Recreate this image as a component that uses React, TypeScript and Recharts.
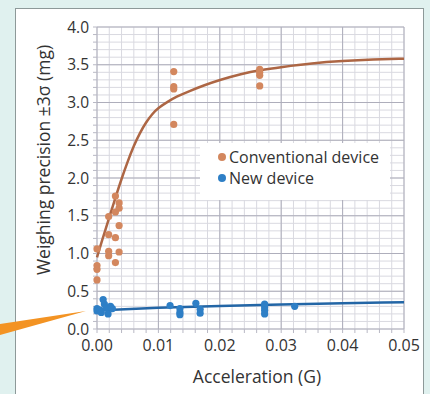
import React from 'react';
import {
  CartesianGrid,
  ComposedChart,
  Legend,
  Line,
  ReferenceLine,
  Scatter,
  XAxis,
  YAxis,
} from 'recharts';

// measured points, conventional device
const conventionalPoints = [
  { x: 0, y: 1.06 }, { x: 0, y: 0.84 }, { x: 0, y: 0.79 }, { x: 0, y: 0.65 },
  { x: 0.0019, y: 1.49 }, { x: 0.0019, y: 1.25 }, { x: 0.0019, y: 1.03 }, { x: 0.0019, y: 0.97 },
  { x: 0.003, y: 1.76 }, { x: 0.003, y: 1.55 }, { x: 0.003, y: 1.21 }, { x: 0.003, y: 0.88 },
  { x: 0.0036, y: 1.67 }, { x: 0.0036, y: 1.6 }, { x: 0.0036, y: 1.37 }, { x: 0.0036, y: 1.02 },
  { x: 0.0125, y: 3.41 }, { x: 0.0125, y: 3.21 }, { x: 0.0125, y: 3.18 }, { x: 0.0125, y: 2.71 },
  { x: 0.0265, y: 3.44 }, { x: 0.0265, y: 3.4 }, { x: 0.0265, y: 3.36 }, { x: 0.0265, y: 3.22 },
];

// measured points, new device
const newPoints = [
  { x: 0, y: 0.27 }, { x: 0, y: 0.24 }, { x: 0.0005, y: 0.25 }, { x: 0.0007, y: 0.22 },
  { x: 0.001, y: 0.39 }, { x: 0.0012, y: 0.33 }, { x: 0.0015, y: 0.28 }, { x: 0.0018, y: 0.2 },
  { x: 0.0022, y: 0.3 }, { x: 0.0025, y: 0.27 },
  { x: 0.0119, y: 0.31 }, { x: 0.0135, y: 0.27 }, { x: 0.0135, y: 0.22 }, { x: 0.0135, y: 0.19 },
  { x: 0.0161, y: 0.34 }, { x: 0.0168, y: 0.26 }, { x: 0.0168, y: 0.21 },
  { x: 0.0273, y: 0.33 }, { x: 0.0273, y: 0.29 }, { x: 0.0273, y: 0.25 }, { x: 0.0273, y: 0.2 },
  { x: 0.0322, y: 0.3 },
];

// trend curves
const conventionalTrend = [
  { x: 0, y: 0.95 }, { x: 0.001, y: 1.22 }, { x: 0.002, y: 1.48 }, { x: 0.003, y: 1.74 },
  { x: 0.004, y: 1.99 }, { x: 0.005, y: 2.22 }, { x: 0.006, y: 2.43 }, { x: 0.007, y: 2.6 },
  { x: 0.008, y: 2.74 }, { x: 0.009, y: 2.85 }, { x: 0.01, y: 2.93 }, { x: 0.0115, y: 3.01 },
  { x: 0.013, y: 3.08 }, { x: 0.015, y: 3.15 }, { x: 0.0175, y: 3.23 }, { x: 0.02, y: 3.3 },
  { x: 0.0235, y: 3.38 }, { x: 0.0265, y: 3.43 }, { x: 0.03, y: 3.47 }, { x: 0.035, y: 3.52 },
  { x: 0.04, y: 3.55 }, { x: 0.045, y: 3.57 }, { x: 0.05, y: 3.58 },
];

const newTrend = [
  { x: 0, y: 0.245 }, { x: 0.01, y: 0.28 }, { x: 0.02, y: 0.305 },
  { x: 0.03, y: 0.323 }, { x: 0.04, y: 0.34 }, { x: 0.05, y: 0.354 },
];

const xTicks = [
  0, 0.002, 0.004, 0.006, 0.008, 0.01, 0.012, 0.014, 0.016, 0.018, 0.02, 0.022, 0.024,
  0.026, 0.028, 0.03, 0.032, 0.034, 0.036, 0.038, 0.04, 0.042, 0.044, 0.046, 0.048, 0.05,
];
const xMajor = [0, 0.01, 0.02, 0.03, 0.04, 0.05];
const yTicks = Array.from({ length: 41 }, (_, i) => i / 10);
const yMajor = [0, 0.5, 1, 1.5, 2, 2.5, 3, 3.5, 4];

const legendItems = [
  { name: 'Conventional device', color: '#d3875e' },
  { name: 'New device', color: '#2e7fc6' },
];

const FONT = '"Open Sans", "Noto Sans", sans-serif';
const MINOR = '#d9d9e0';
const MAJOR = '#aeaebb';

const isMajorX = (v: number) => Math.round(v * 1000) % 10 === 0;
const isMajorY = (v: number) => Math.round(v * 10) % 5 === 0;

const dot = (color: string) => (p: any) => (
  <circle cx={p.cx} cy={p.cy} r={3.6} fill={color} />
);

function LegendBox() {
  return (
    <div
      style={{
        position: 'absolute',
        left: 200,
        top: 143,
        width: 190,
        height: 57,
        background: '#fff',
        fontFamily: FONT,
        fontSize: 16,
        color: '#333',
        boxSizing: 'border-box',
        paddingTop: 3,
        paddingLeft: 18,
      }}
    >
      {legendItems.map((it) => (
        <div key={it.name} style={{ display: 'flex', alignItems: 'center', height: 21 }}>
          <span
            style={{
              width: 8,
              height: 8,
              borderRadius: 4,
              background: it.color,
              marginRight: 3,
              display: 'inline-block',
            }}
          />
          {it.name}
        </div>
      ))}
    </div>
  );
}

export default function App() {
  return (
    <div
      style={{
        position: 'fixed',
        left: 0,
        top: 0,
        width: 430,
        height: 394,
        background: '#e0f1ef',
        overflow: 'hidden',
      }}
    >
      <div
        style={{
          position: 'absolute',
          left: 15,
          top: 8,
          width: 407,
          height: 400,
          background: '#fff',
          border: '1px solid #8d9999',
        }}
      />
      <div style={{ position: 'absolute', left: 0, top: 0 }}>
        <ComposedChart
          width={430}
          height={394}
          margin={{ top: 27, right: 26, bottom: 0, left: 1 }}
        >
          <CartesianGrid stroke={MINOR} strokeWidth={1} />
          {xMajor.map((v) => (
            <ReferenceLine key={'x' + v} x={v} stroke={MAJOR} strokeWidth={1} />
          ))}
          {yMajor.map((v) => (
            <ReferenceLine key={'y' + v} y={v} stroke={MAJOR} strokeWidth={1} />
          ))}
          <XAxis
            type="number"
            dataKey="x"
            domain={[0, 0.05]}
            ticks={xTicks}
            interval={0}
            height={65}
            axisLine={false}
            tickLine={{ stroke: '#b8b8c4' }}
            tickSize={4}
            tickMargin={7}
            tickFormatter={(v: number) => (isMajorX(v) ? v.toFixed(2) : '')}
            tick={{ fill: '#333', fontSize: 16, fontFamily: FONT }}
          />
          <YAxis
            type="number"
            dataKey="y"
            domain={[0, 4]}
            ticks={yTicks}
            interval={0}
            width={96}
            axisLine={false}
            tickLine={{ stroke: '#b8b8c4' }}
            tickSize={4}
            tickMargin={4}
            tickFormatter={(v: number) => (isMajorY(v) ? v.toFixed(1) : '')}
            tick={{ fill: '#333', fontSize: 15.5, fontFamily: FONT }}
          />
          <Legend content={() => <LegendBox />} wrapperStyle={{ left: 0, top: 0 }} />
          <Scatter
            name="Conventional device"
            data={conventionalPoints}
            fill="#d3875e"
            shape={dot('#d3875e')}
            isAnimationActive={false}
          />
          <Scatter
            name="New device"
            data={newPoints}
            fill="#2e7fc6"
            shape={dot('#2e7fc6')}
            isAnimationActive={false}
          />
          <Line
            data={conventionalTrend}
            dataKey="y"
            type="basis"
            stroke="#ad6644"
            strokeWidth={2.5}
            dot={false}
            legendType="none"
            isAnimationActive={false}
          />
          <Line
            data={newTrend}
            dataKey="y"
            type="monotone"
            stroke="#2366a6"
            strokeWidth={2.5}
            dot={false}
            legendType="none"
            isAnimationActive={false}
          />
        </ComposedChart>
      </div>
      <svg
        width={430}
        height={394}
        style={{ position: 'absolute', left: 0, top: 0, pointerEvents: 'none' }}
      >
        <polygon points="0,324 0,335 86,311" fill="#f39323" />
        <text
          x={257}
          y={383}
          textAnchor="middle"
          fontFamily={FONT}
          fontSize={17.5}
          fill="#333"
        >
          Acceleration (G)
        </text>
        <text
          transform="translate(50,160) rotate(-90)"
          textAnchor="middle"
          fontFamily={FONT}
          fontSize={17.5}
          fill="#333"
        >
          Weighing precision ±3σ (mg)
        </text>
      </svg>
    </div>
  );
}
